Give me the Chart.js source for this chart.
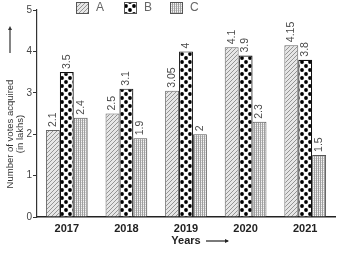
<!DOCTYPE html>
<html>
<head>
<meta charset="utf-8">
<script src="https://cdn.jsdelivr.net/npm/chart.js@4.4.0/dist/chart.umd.min.js"></script>
<style>
  html, body { margin: 0; padding: 0; background: #fff; }
  canvas { display: block; }
</style>
</head>
<body>
<canvas id="chart" width="341" height="254"></canvas>
<script>
const years = ["2017", "2018", "2019", "2020", "2021"];
const seriesA = [2.1, 2.5, 3.05, 4.1, 4.15];
const seriesB = [3.5, 3.1, 4, 3.9, 3.8];
const seriesC = [2.4, 1.9, 2, 2.3, 1.5];
const yTicks = [0, 1, 2, 3, 4, 5];

// hatch patterns, drawn on small offscreen canvases
function makePattern(w, h, draw) {
    const c = document.createElement("canvas");
    c.width = w;
    c.height = h;
    draw(c.getContext("2d"));
    return document.getElementById("chart").getContext("2d").createPattern(c, "repeat");
}

const diagPattern = makePattern(4, 4, g => {
    g.fillStyle = "#e6e6e6";
    g.fillRect(0, 0, 4, 4);
    g.strokeStyle = "#8a8a8a";
    g.lineWidth = 0.9;
    g.beginPath();
    g.moveTo(-1, 5); g.lineTo(5, -1);
    g.moveTo(-1, 1); g.lineTo(1, -1);
    g.moveTo(3, 5); g.lineTo(5, 3);
    g.stroke();
});

const dotPattern = makePattern(8, 8, g => {
    g.fillStyle = "#fff";
    g.fillRect(0, 0, 8, 8);
    g.fillStyle = "#000";
    [[2, 2], [6, 6], [10, 2], [-2, 6], [6, -2], [2, 10]].forEach(([x, y]) => {
        g.beginPath();
        g.arc(x, y, 1.9, 0, Math.PI * 2);
        g.fill();
    });
});

const linePattern = makePattern(2, 2, g => {
    g.fillStyle = "#f4f4f4";
    g.fillRect(0, 0, 2, 2);
    g.fillStyle = "#d2d2d2";
    g.fillRect(0, 0, 2, 1);
    g.fillStyle = "#a0a0a0";
    g.fillRect(0, 0, 1, 2);
});

const valueLabels = {
    id: "valueLabels",
    afterDatasetsDraw(chart) {
        const c = chart.ctx;
        c.save();
        c.font = "10.5px 'Liberation Sans', Arial, sans-serif";
        c.fillStyle = "#4a4a4a";
        chart.data.datasets.forEach((ds, i) => {
            chart.getDatasetMeta(i).data.forEach((bar, j) => {
                c.save();
                c.translate(bar.x, bar.y - 3);
                c.rotate(-Math.PI / 2);
                c.textAlign = "left";
                c.textBaseline = "middle";
                c.fillText(String(ds.data[j]), 0, 0);
                c.restore();
            });
        });
        c.restore();
    }
};

const annotations = {
    id: "annotations",
    afterDraw(chart) {
        const c = chart.ctx;
        const area = chart.chartArea;
        c.save();
        // legend
        c.font = "12px 'Liberation Sans', Arial, sans-serif";
        c.textBaseline = "middle";
        const legendX = [76, 124, 170];
        chart.data.datasets.forEach((ds, i) => {
            c.fillStyle = ds.backgroundColor;
            c.fillRect(legendX[i], 2, 13, 12);
            c.strokeStyle = "#555";
            c.lineWidth = 1;
            c.strokeRect(legendX[i] + 0.5, 2.5, 12, 11);
            c.fillStyle = "#666";
            c.fillText(ds.label, legendX[i] + 20, 8);
        });

        // y title
        c.fillStyle = "#333";
        c.font = "9.5px 'Liberation Sans', Arial, sans-serif";
        c.textAlign = "center";
        c.save();
        c.translate(10, 134);
        c.rotate(-Math.PI / 2);
        c.fillText("Number of votes acquired", 0, 0);
        c.fillText("(in lakhs)", 0, 10);
        c.restore();
        // arrow up
        c.strokeStyle = "#333";
        c.lineWidth = 1.2;
        c.beginPath();
        c.moveTo(10, 53);
        c.lineTo(10, 28);
        c.stroke();
        c.beginPath();
        c.moveTo(8, 30); c.lineTo(10, 26); c.lineTo(12, 30);
        c.fill();

        // x title
        c.font = "bold 11px 'Liberation Sans', Arial, sans-serif";
        c.fillStyle = "#222";
        const cx = (area.left + area.right) / 2;
        c.fillText("Years", cx, 241);
        c.strokeStyle = "#222";
        c.beginPath();
        c.moveTo(cx + 20, 241);
        c.lineTo(cx + 42, 241);
        c.stroke();
        c.beginPath();
        c.moveTo(cx + 39, 239); c.lineTo(cx + 43, 241); c.lineTo(cx + 39, 243);
        c.fill();
        c.restore();
    }
};

new Chart(document.getElementById("chart"), {
    type: "bar",
    data: {
        labels: years,
        datasets: [
            { label: "A", data: seriesA, backgroundColor: diagPattern, borderColor: "#666", borderWidth: 1 },
            { label: "B", data: seriesB, backgroundColor: dotPattern, borderColor: "#111", borderWidth: 1.2 },
            { label: "C", data: seriesC, backgroundColor: linePattern, borderColor: "#555", borderWidth: 1 }
        ]
    },
    options: {
        responsive: false,
        animation: false,
        layout: { padding: { left: 0, right: 6, top: 10, bottom: 0 } },
        plugins: {
            legend: { display: false },
            tooltip: { enabled: false }
        },
        datasets: {
            bar: { categoryPercentage: 0.7, barPercentage: 1 }
        },
        scales: {
            x: {
                grid: { display: false, drawTicks: false },
                border: { color: "#222", width: 1.5 },
                ticks: {
                    color: "#222",
                    padding: 5,
                    font: { family: "'Liberation Sans', Arial, sans-serif", size: 11, weight: "bold" }
                },
                afterFit: s => { s.height = 37; }
            },
            y: {
                min: 0,
                max: 5,
                afterBuildTicks: s => { s.ticks = yTicks.map(v => ({ value: v })); },
                grid: { drawOnChartArea: false, color: "#333", tickLength: 4 },
                border: { color: "#333", width: 1.2 },
                ticks: {
                    color: "#444",
                    padding: 1,
                    font: { family: "'Liberation Sans', Arial, sans-serif", size: 10 }
                },
                afterFit: s => { s.width = 37; }
            }
        }
    },
    plugins: [valueLabels, annotations]
});
</script>
</body>
</html>
